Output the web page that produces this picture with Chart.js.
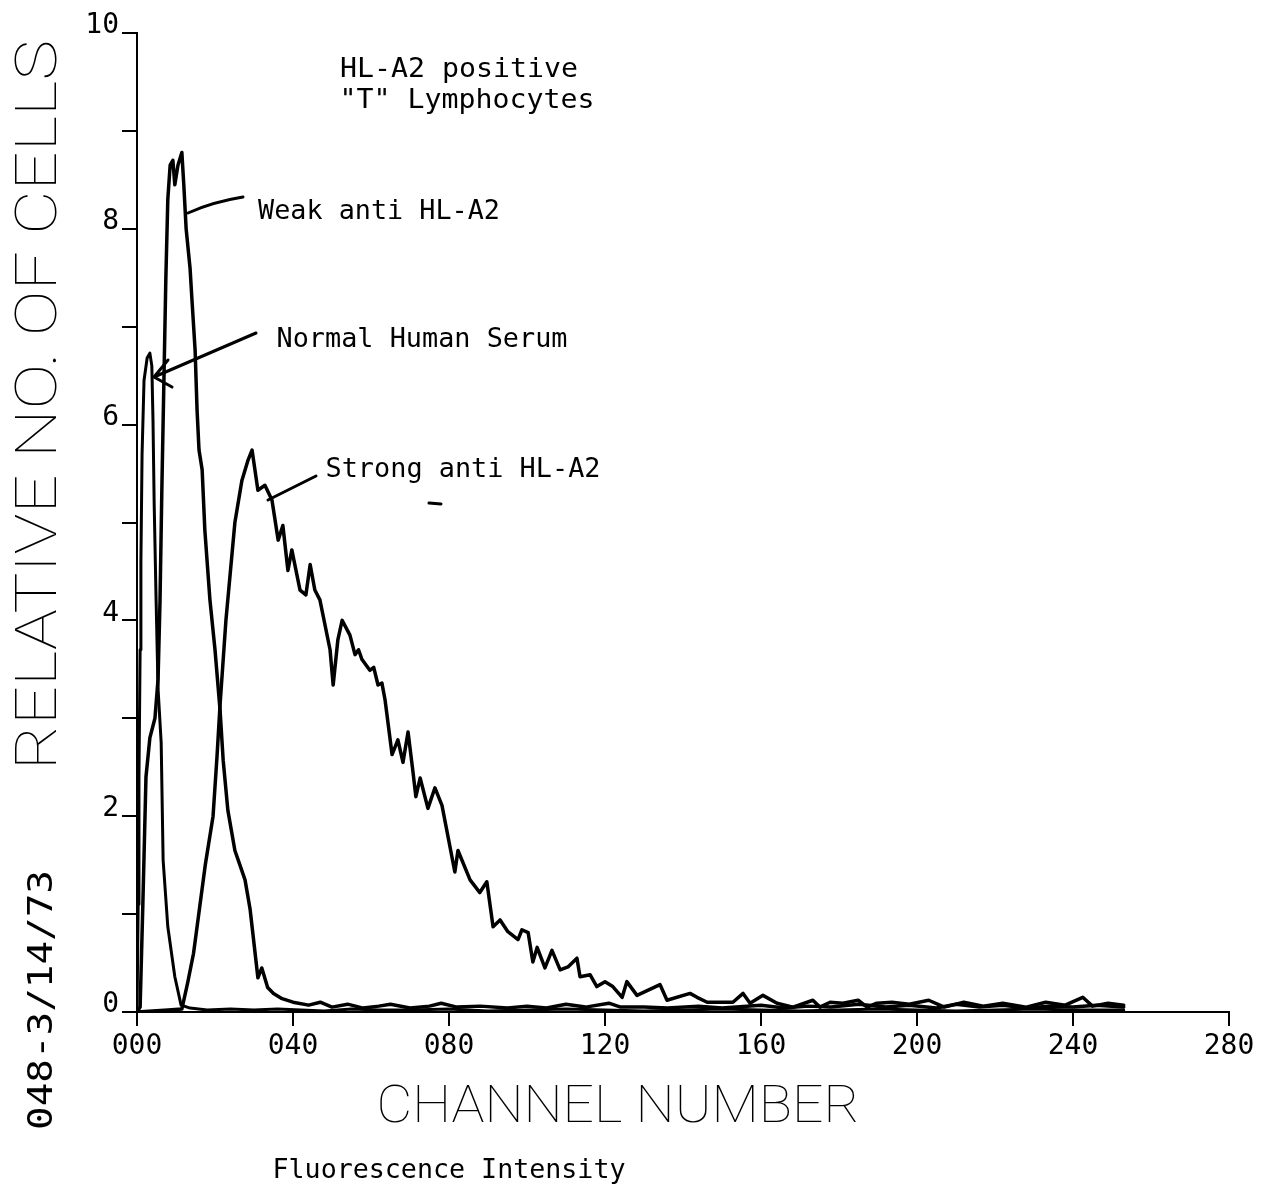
<!DOCTYPE html>
<html>
<head>
<meta charset="utf-8">
<title>HL-A2 fluorescence histogram</title>
<script src="https://cdn.jsdelivr.net/npm/chart.js@4.4.1/dist/chart.umd.min.js"></script>
<style>
  html, body { margin: 0; padding: 0; background: #fff; }
  #histo { display: block; }
</style>
</head>
<body>
<canvas id="histo" width="1276" height="1186"></canvas>
<script>
// channel number / relative no. of cells
const nhsCh = [0, 0.3, 0.5, 0.8, 1.0, 1.3, 1.8, 2.6, 3.3, 3.8, 4.1, 4.4, 4.9, 5.4, 6.2, 6.7, 7.9, 9.7, 11.3, 13.6,
  18, 24, 30, 36, 42, 48, 55, 62, 70, 80, 90, 100, 110, 120, 130, 140, 150, 160, 170, 180, 190, 200, 210, 220, 230, 240, 253];
const nhsVal = [0, 1.1, 2.4, 3.7, 4.6, 5.7, 6.45, 6.68, 6.73, 6.6, 6.05, 5.2, 4.2, 3.3, 2.75, 1.55, 0.87, 0.36, 0.07, 0.04,
  0.02, 0.03, 0.02, 0.03, 0.02, 0.01, 0.03, 0.02, 0.02, 0.03, 0.01, 0.02, 0.03, 0.02, 0.01, 0.02, 0.03, 0.02, 0.01, 0.02, 0.03, 0.02, 0.01, 0.02, 0.03, 0.02, 0.02];

const weakCh = [0, 0.8, 1.5, 2.3, 3.3, 4.6, 5.4, 5.9, 6.4, 6.9, 7.4, 7.9, 8.5, 9.2, 9.7, 10.5, 11.5, 12, 12.6, 13.6,
  14.1, 14.9, 15.4, 15.9, 16.7, 17.4, 18.7, 20, 21.3, 22.1, 23.3, 25.1, 26.4, 27.7, 29, 30, 31, 32, 33.5, 35, 37, 40,
  44, 47, 50, 54, 58, 62, 65, 70, 75, 78, 82, 88, 95, 100, 105, 110, 115, 121, 124, 130, 136, 144, 150, 160, 166,
  172, 178, 185, 192, 198, 205, 210, 216, 222, 228, 234, 240, 246, 253];
const weakVal = [0, 0.05, 1.1, 2.4, 2.8, 3.0, 3.4, 4.2, 5.4, 6.45, 7.5, 8.3, 8.65, 8.7, 8.45, 8.65, 8.78, 8.45, 8.0, 7.6,
  7.27, 6.76, 6.15, 5.74, 5.54, 4.92, 4.21, 3.7, 3.08, 2.57, 2.06, 1.65, 1.5, 1.35, 1.05, 0.7, 0.35, 0.45, 0.25, 0.19, 0.14, 0.1,
  0.07, 0.1, 0.05, 0.08, 0.04, 0.06, 0.08, 0.04, 0.06, 0.09, 0.05, 0.06, 0.04, 0.06, 0.04, 0.08, 0.05, 0.09, 0.05, 0.05, 0.04, 0.06, 0.04, 0.07, 0.04,
  0.06, 0.05, 0.08, 0.05, 0.07, 0.04, 0.08, 0.05, 0.07, 0.04, 0.06, 0.05, 0.07, 0.05];

const strongCh = [0, 8, 11.5, 13, 14.5, 16, 17.5, 19.5, 20.5, 21.3, 22.8, 25.1, 26.9, 28.5, 29.5, 31, 32.8, 34.6, 36.2, 37.4,
  38.7, 39.7, 41.8, 43.3, 44.4, 45.6, 46.9, 49.5, 50.3, 51.5, 52.6, 54.6, 55.9, 56.8, 57.7, 59.7, 60.7, 61.8, 62.8, 63.6, 65.4, 66.9, 68.2,
  69.5, 70.8, 71.5, 72.6, 74.6, 76.4, 78.2, 81.5, 82.3, 85.4, 87.9, 89.7, 91.3, 93.1, 95.1, 97.7, 98.7, 100.3, 101.5, 102.6,
  104.6, 106.4, 108.5, 110.5, 112.8, 113.6, 116.2, 117.9, 120, 122, 124.4, 125.6, 128.2, 134.1, 135.9, 141.8, 143.6, 146.2,
  152.8, 155.4, 157.2, 160.5, 164.1, 168.2, 173.3, 175.1, 177.7, 181, 184.9, 187.2, 189.7, 193.6, 198, 203, 207, 212, 217,
  222, 228, 233, 238, 242.5, 245, 249, 253];
const strongVal = [0, 0.02, 0.03, 0.3, 0.6, 1.05, 1.5, 2.0, 2.6, 3.14, 4.0, 5.0, 5.43, 5.64, 5.74, 5.33, 5.38, 5.23, 4.82, 4.97,
  4.51, 4.72, 4.31, 4.26, 4.57, 4.31, 4.21, 3.7, 3.34, 3.8, 4.0, 3.85, 3.65, 3.7, 3.6, 3.49, 3.52, 3.34, 3.36, 3.19, 2.63, 2.78, 2.55,
  2.86, 2.44, 2.2, 2.39, 2.08, 2.29, 2.11, 1.43, 1.65, 1.35, 1.22, 1.33, 0.87, 0.94, 0.82, 0.74, 0.84, 0.81, 0.51, 0.66,
  0.45, 0.63, 0.43, 0.46, 0.55, 0.36, 0.38, 0.26, 0.31, 0.26, 0.15, 0.31, 0.17, 0.28, 0.12, 0.19, 0.15, 0.1,
  0.1, 0.19, 0.09, 0.17, 0.09, 0.05, 0.12, 0.05, 0.1, 0.09, 0.12, 0.05, 0.09, 0.1, 0.08, 0.12, 0.05, 0.1, 0.06,
  0.09, 0.05, 0.1, 0.07, 0.15, 0.06, 0.09, 0.07];

const xTicks = [0, 40, 80, 120, 160, 200, 240, 280];

const toPoints = (xs, ys) => xs.map((x, i) => ({ x: x, y: ys[i] }));

// stretch a text to a given width (plotter lettering is wider than any font here)
function fitText(ctx, text, cx, cy, width, font, angle) {
  ctx.save();
  ctx.translate(cx, cy);
  if (angle) ctx.rotate(angle);
  ctx.font = font;
  const w = ctx.measureText(text).width;
  ctx.scale(width / w, 1);
  ctx.textAlign = 'center';
  ctx.textBaseline = 'alphabetic';
  ctx.fillStyle = '#000';
  ctx.fillText(text, 0, 0);
  ctx.restore();
}

const decor = {
  id: 'decor',
  afterDraw(chart) {
    const ctx = chart.ctx;
    const mono = '27px "DejaVu Sans Mono", "Liberation Mono", monospace';

    fitText(ctx, 'HL-A2 positive', 459, 77, 238, mono);
    fitText(ctx, '"T" Lymphocytes', 467, 108, 255, mono);
    fitText(ctx, 'Weak anti HL-A2', 379, 219, 242, mono);
    fitText(ctx, 'Normal Human Serum', 422, 347, 291, mono);
    fitText(ctx, 'Strong anti HL-A2', 463, 477, 275, mono);
    fitText(ctx, 'Fluorescence Intensity', 449, 1178, 353, mono);

    fitText(ctx, 'CHANNEL NUMBER', 618, 1122, 483, '100 52px Roboto, "DejaVu Sans", sans-serif');
    fitText(ctx, 'RELATIVE NO. OF CELLS', 56, 405, 730, '100 58px Roboto, "DejaVu Sans", sans-serif', -Math.PI / 2);
    fitText(ctx, '048-3/14/73', 52, 1000, 260, '34px "DejaVu Sans Mono", monospace', -Math.PI / 2);

    // leader lines
    ctx.save();
    ctx.strokeStyle = '#000';
    ctx.lineWidth = 3;
    ctx.lineCap = 'round';
    ctx.beginPath();
    ctx.moveTo(188, 213);
    ctx.quadraticCurveTo(212, 202, 243, 197);
    ctx.moveTo(256, 333);
    ctx.lineTo(154, 377);
    ctx.moveTo(154, 377);
    ctx.lineTo(168, 360);
    ctx.moveTo(154, 377);
    ctx.lineTo(172, 387);
    ctx.moveTo(268, 500);
    ctx.lineTo(316, 476);
    ctx.moveTo(429, 503);
    ctx.lineTo(441, 504);
    ctx.stroke();
    ctx.restore();
  }
};

const lineStyle = {
  borderColor: '#000',
  pointRadius: 0,
  tension: 0,
  fill: false,
  borderJoinStyle: 'round',
  borderCapStyle: 'round'
};

new Chart(document.getElementById('histo'), {
  type: 'line',
  data: {
    datasets: [
      { label: 'Normal Human Serum', data: toPoints(nhsCh, nhsVal), borderWidth: 3, ...lineStyle },
      { label: 'Weak anti HL-A2', data: toPoints(weakCh, weakVal), borderWidth: 3.5, ...lineStyle },
      { label: 'Strong anti HL-A2', data: toPoints(strongCh, strongVal), borderWidth: 3.5, ...lineStyle }
    ]
  },
  options: {
    responsive: false,
    animation: false,
    layout: { padding: { top: 33, right: 47, left: 0, bottom: 0 } },
    plugins: {
      legend: { display: false },
      tooltip: { enabled: false }
    },
    scales: {
      x: {
        type: 'linear',
        min: 0,
        max: 280,
        afterBuildTicks: (scale) => { scale.ticks = xTicks.map(v => ({ value: v })); },
        ticks: {
          callback: (v) => String(v).padStart(3, '0'),
          font: { family: '"DejaVu Sans Mono", monospace', size: 28 },
          color: '#000',
          padding: 4,
          maxRotation: 0,
          autoSkip: false
        },
        grid: { drawOnChartArea: false, drawTicks: true, tickLength: 14, color: '#000', lineWidth: 2 },
        border: { color: '#000', width: 2 },
        afterFit: (scale) => { scale.height = 174; }
      },
      y: {
        min: 0,
        max: 10,
        ticks: {
          stepSize: 1,
          callback: (v) => (v % 2 === 0 ? String(v) : ''),
          font: { family: '"DejaVu Sans Mono", monospace', size: 28 },
          color: '#000',
          padding: 3,
          labelOffset: -7
        },
        grid: { drawOnChartArea: false, drawTicks: true, tickLength: 15, color: '#000', lineWidth: 2 },
        border: { color: '#000', width: 2 },
        afterFit: (scale) => { scale.width = 137; }
      }
    }
  },
  plugins: [decor]
});
</script>
</body>
</html>
